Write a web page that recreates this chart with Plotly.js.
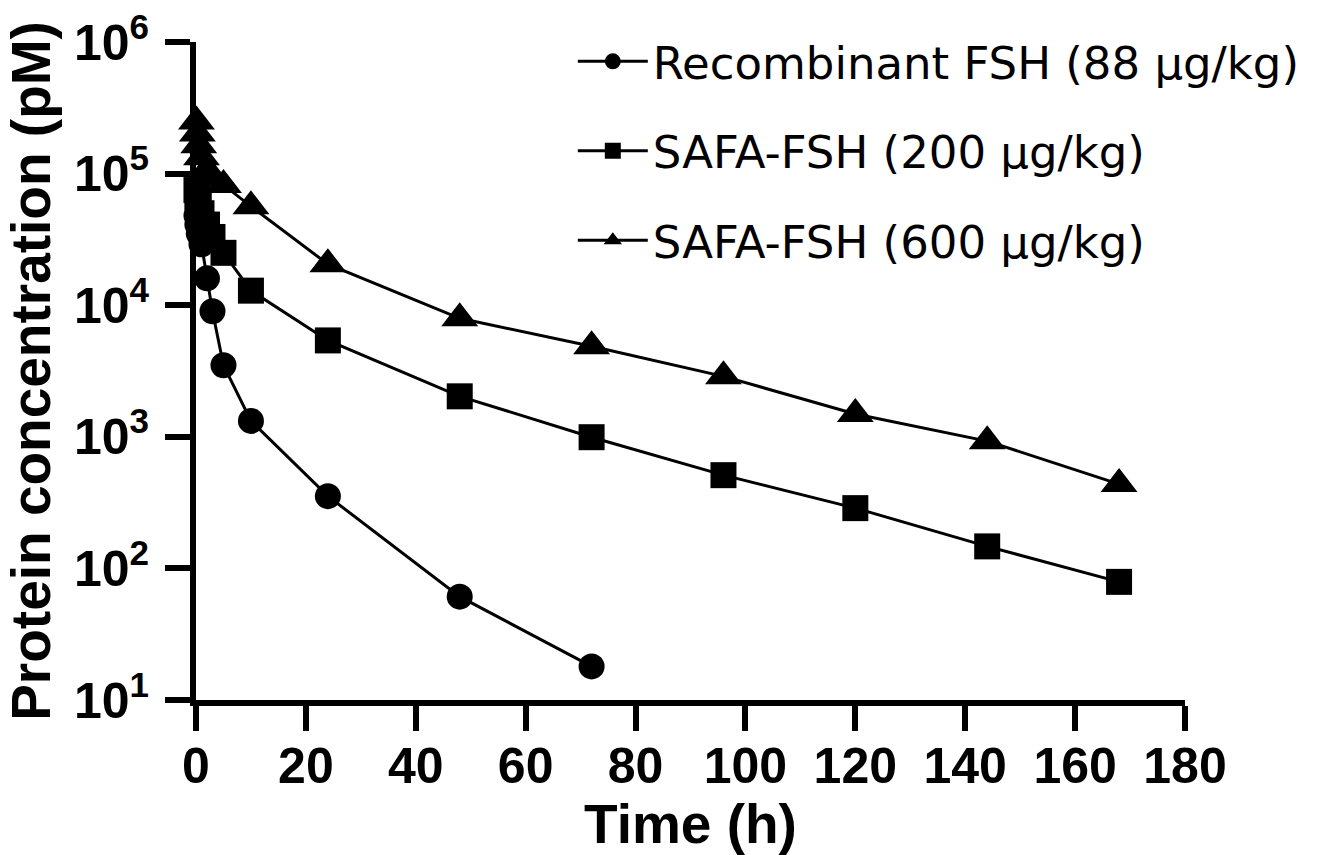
<!DOCTYPE html>
<html>
<head>
<meta charset="utf-8">
<script src="https://cdn.plot.ly/plotly-3.0.1.min.js"></script>
<style>html,body{margin:0;padding:0;background:#fff;}#chart{width:1341px;height:855px;}</style>
</head>
<body>
<div id="chart"></div>
<script>
// Sampling times (h)
const timeH = [0.083, 0.25, 0.5, 1, 2, 3, 5, 10, 24, 48, 72, 96, 120, 144, 168];
// Protein concentration (pM)
const recombinantFSH = [48000, 41000, 35000, 29000, 16000, 9000, 3500, 1320, 354, 61, 18];
const safa200 = [75000, 66000, 58000, 50000, 41000, 33000, 25000, 12900, 5400, 2030, 993, 511, 287, 147, 79];
const safa600 = [249000, 202000, 164000, 133000, 107000, 93000, 82000, 56400, 20500, 7950, 4870, 2880, 1490, 927, 437];
const seriesNames = ['Recombinant FSH (88 μg/kg)', 'SAFA-FSH (200 μg/kg)', 'SAFA-FSH (600 μg/kg)'];
const xTicks = [0, 20, 40, 60, 80, 100, 120, 140, 160, 180];
const yTickVals = [10, 100, 1000, 10000, 100000, 1000000];
const yTickText = ['10<sup>1</sup>', '10<sup>2</sup>', '10<sup>3</sup>', '10<sup>4</sup>', '10<sup>5</sup>', '10<sup>6</sup>'];

const mk = (name, y, symbol, size, grp) => ({
  type: 'scatter', mode: 'lines+markers', name: name, legendgroup: grp,
  x: timeH.slice(0, y.length), y: y,
  line: {color: '#000', width: 3},
  marker: {color: '#000', symbol: symbol, size: size},
  cliponaxis: false
});

const data = [
  mk(seriesNames[0], recombinantFSH, 'circle', 26, 'a'),
  mk(seriesNames[1], safa200, 'square', 26, 'b'),
  mk(seriesNames[2], safa600, 'triangle-up', 32, 'c')
];

const tickFont = {family: 'Liberation Sans, Arial, sans-serif', size: 50, color: '#000', weight: 'bold'};
const titleFont = {family: 'Liberation Sans, Arial, sans-serif', size: 55, color: '#000', weight: 'bold'};

const layout = {
  width: 1341, height: 855,
  margin: {l: 196, r: 156, t: 42, b: 155},
  paper_bgcolor: '#fff', plot_bgcolor: '#fff',
  showlegend: true,
  legend: {
    x: 0.381, xanchor: 'left', y: 1.025, yanchor: 'top',
    font: {family: 'DejaVu Sans, sans-serif', size: 45, color: '#000'},
    traceorder: 'grouped', tracegroupgap: 28, itemwidth: 70,
    bgcolor: 'rgba(0,0,0,0)', borderwidth: 0
  },
  xaxis: {
    range: [0, 180], tickvals: xTicks, ticktext: xTicks.map(String),
    showline: true, linecolor: '#000', linewidth: 6,
    ticks: 'outside', ticklen: 25, tickwidth: 6, tickcolor: '#000',
    tickfont: tickFont, showgrid: false, zeroline: false,
    ticklabelstandoff: -8,
    title: {text: 'Time (h)', font: titleFont, standoff: 0}
  },
  yaxis: {
    type: 'log', range: [1, 6], tickvals: yTickVals, ticktext: yTickText,
    showline: true, linecolor: '#000', linewidth: 6,
    ticks: 'outside', ticklen: 25, tickwidth: 6, tickcolor: '#000',
    tickfont: tickFont, showgrid: false, zeroline: false,
    ticklabelstandoff: 6,
    title: {text: 'Protein concentration (pM)', font: titleFont, standoff: 8}
  }
};

Plotly.newPlot('chart', data, layout, {displayModeBar: false, staticPlot: true});
</script>
</body>
</html>
